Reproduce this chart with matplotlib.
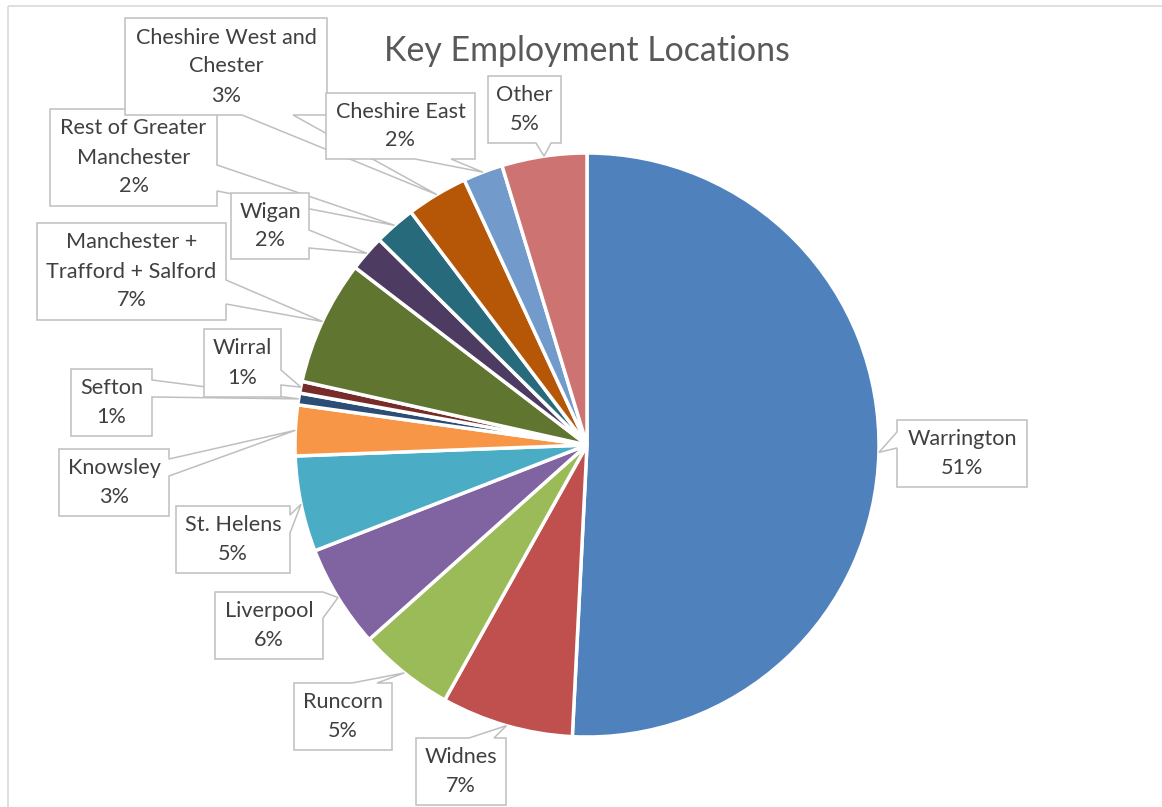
'''Key employment locations - pie chart with Excel style callout labels.'''
import math
import matplotlib
matplotlib.use('Agg')
import matplotlib.pyplot as plt
from matplotlib.patches import Polygon, Rectangle

# data (clockwise from 12 o'clock)
locations = ['Warrington', 'Widnes', 'Runcorn', 'Liverpool', 'St. Helens',
             'Knowsley', 'Sefton', 'Wirral', 'Manchester +\nTrafford + Salford',
             'Wigan', 'Rest of Greater\nManchester', 'Cheshire West and\nChester',
             'Cheshire East', 'Other']
shares = [50.8, 7.3, 5.3, 5.7, 5.3, 2.8, 0.65, 0.65, 6.9, 2.0, 2.3, 3.4, 2.2, 4.7]
colours = ['#4F81BD', '#C0504D', '#9BBB59', '#8064A2', '#4BACC6', '#F79646',
           '#2C4D75', '#772C2A', '#5F7530', '#4D3B62', '#276A7C', '#B65708',
           '#729ACA', '#CD7371']

# callout boxes in pixel coords (x0, y0, x1, y1), side the pointer leaves from,
# pointer base along that side, drawing layer
callouts = [
    ((897, 420, 1027, 487), 'left', (432, 448), 1),
    ((416, 738, 506, 805), 'top', (469, 494), 1),
    ((294, 683, 392, 750), 'top', (352, 377), 1),
    ((215, 592, 323, 659), 'right', (592, 618), 1),
    ((176, 506, 290, 573), 'right', (515, 533), 1),
    ((59, 449, 169, 516), 'right', (459, 476), 1),
    ((71, 369, 152, 436), 'right', (380, 397), 1),
    ((204, 329, 281, 397), 'right', (370, 385), 2),
    ((37, 223, 226, 320), 'right', (280, 304), 1),
    ((231, 193, 309, 259), 'right', (230, 248), 2),
    ((50, 109, 217, 206), 'right', (165, 191), 1),
    ((125, 18, 327, 115), 'bottom', (242, 293), 1),
    ((326, 93, 475, 159), 'bottom', (415, 451), 2),
    ((488, 76, 561, 143), 'bottom', (536, 551), 1),
]

W, H = 1162, 807
CX, CY, R = 587, 445, 292
LINE_GAP = 29
FONT = ['Lato', 'DejaVu Sans']


def callout_shape(box, side, base, apex):
    x0, y0, x1, y1 = box
    a, b = base
    pts = [(x0, y0)]
    if side == 'top':
        pts += [(a, y0), apex, (b, y0)]
    pts.append((x1, y0))
    if side == 'right':
        pts += [(x1, a), apex, (x1, b)]
    pts.append((x1, y1))
    if side == 'bottom':
        pts += [(b, y1), apex, (a, y1)]
    pts.append((x0, y1))
    if side == 'left':
        pts += [(x0, b), apex, (x0, a)]
    return pts


fig = plt.figure(figsize=(W / 100, H / 100), dpi=100)
ax = fig.add_axes([0, 0, 1, 1])

# y axis points down so everything is in pixel coords; start at top, go clockwise
wedges, _ = ax.pie(shares, colors=colours, startangle=-90, counterclock=True,
                   center=(CX, CY), radius=R,
                   wedgeprops=dict(edgecolor='white', linewidth=2.5))
ax.set_xlim(0, W)
ax.set_ylim(H, 0)
ax.set_aspect('equal')
ax.axis('off')

# chart area border
ax.add_patch(Rectangle((7.5, 5.5), 2000, 2000, fill=False, edgecolor='#D9D9D9',
                       linewidth=1.2, zorder=1))

total = sum(shares)
for wedge, name, value, (box, side, base, layer) in zip(wedges, locations, shares, callouts):
    mid = math.radians((wedge.theta1 + wedge.theta2) / 2)
    apex = (CX + R * math.cos(mid), CY + R * math.sin(mid))
    shape = Polygon(callout_shape(box, side, base, apex), closed=True,
                    facecolor='white', edgecolor='#BFBFBF', linewidth=1.1,
                    zorder=3 + layer)
    ax.add_patch(shape)
    lines = name.split('\n') + [f"{round(value / total * 100):.0f}%"]
    xc = (box[0] + box[2]) / 2
    yc = (box[1] + box[3]) / 2
    for i, line in enumerate(lines):
        ax.text(xc, yc + (i - (len(lines) - 1) / 2) * LINE_GAP, line,
                ha='center', va='center', fontsize=15.6, color='#404040',
                family=FONT, zorder=10)

ax.text(CX, 51, 'Key Employment Locations', ha='center', va='center',
        fontsize=24.4, color='#595959', family=FONT, zorder=10)

fig.savefig('out.png', dpi=100)
